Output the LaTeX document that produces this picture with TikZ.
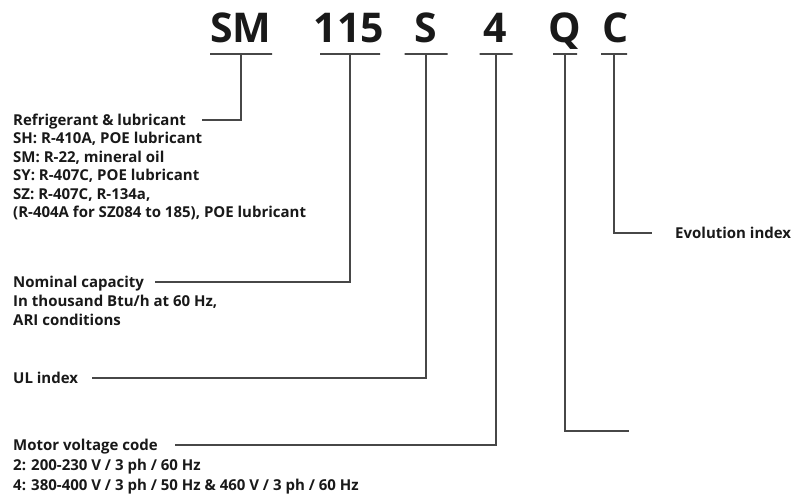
\documentclass[tikz,border=0pt]{standalone}
\usepackage{fontspec}
\setmainfont{Open Sans}
\begin{document}
\begin{tikzpicture}[x=1pt,y=-1pt,
  code/.style={font=\fontsize{41}{41}\selectfont\bfseries, text=black!90, inner sep=0pt, anchor=base},
  bar/.style={draw=black!72, line width=1.2pt, minimum height=0pt, inner sep=0pt},
  lead/.style={draw=black!72, line width=1.2pt},
  lbl/.style={font=\fontsize{15}{15}\selectfont\bfseries, text=black!90, inner sep=0pt, anchor=base west}
]
\useasboundingbox[fill=white] (0,0) rectangle (792,495);

% code letters
\node[code] (csm) at (241,43) {SM};
\node[code] (c115) at (349,43) {115};
\node[code] (cs) at (426,43) {S};
\node[code] (c4) at (495,43) {4};
\node[code] (cq) at (565,43) {Q};
\node[code] (cc) at (616,43) {C};

% underlines
\node[bar, minimum width=62pt] (bsm) at (241,54) {};
\node[bar, minimum width=60pt] (b115) at (350,54) {};
\node[bar, minimum width=43pt] (bs) at (426,54) {};
\node[bar, minimum width=33pt] (b4) at (496,54) {};
\node[bar, minimum width=24pt] (bq) at (565,54) {};
\node[bar, minimum width=26pt] (bc) at (614,54) {};

% connector ends
\coordinate (esm) at (202,120);
\coordinate (e115) at (155,282);
\coordinate (es) at (92,378);
\coordinate (e4) at (175,445);
\coordinate (eq) at (629,431);
\coordinate (ec) at (652,233);

% labels
\node[lbl] (l1a) at (13,125) {Refrigerant \& lubricant};
\node[lbl] (l1b) at (13,143.5) {SH: R-410A, POE lubricant};
\node[lbl] (l1c) at (13,162) {SM: R-22, mineral oil};
\node[lbl] (l1d) at (13,180.5) {SY: R-407C, POE lubricant};
\node[lbl] (l1e) at (13,199) {SZ: R-407C, R-134a,};
\node[lbl] (l1f) at (13,217.5) {(R-404A for SZ084 to 185), POE lubricant};

\node[lbl] (l2a) at (13,287) {Nominal capacity};
\node[lbl] (l2b) at (13,306) {In thousand Btu/h at 60 Hz,};
\node[lbl] (l2c) at (13,325) {ARI conditions};

\node[lbl] (l3) at (13,383) {UL index};

\node[lbl] (l4a) at (13,450) {Motor voltage code};
\node[lbl] (l4b) at (13,470) {2: 200-230 V / 3 ph / 60 Hz};
\node[lbl] (l4c) at (13,490) {4: 380-400 V / 3 ph / 50 Hz \& 460 V / 3 ph / 60 Hz};

\node[lbl] (l6) at (675,238) {Evolution index};

% connectors
\draw[lead] (bsm.center) |- (esm);
\draw[lead] (b115.center) |- (e115);
\draw[lead] (bs.center) |- (es);
\draw[lead] (b4.center) |- (e4);
\draw[lead] (bq.center) |- (eq);
\draw[lead] (bc.center) |- (ec);
\end{tikzpicture}
\end{document}
